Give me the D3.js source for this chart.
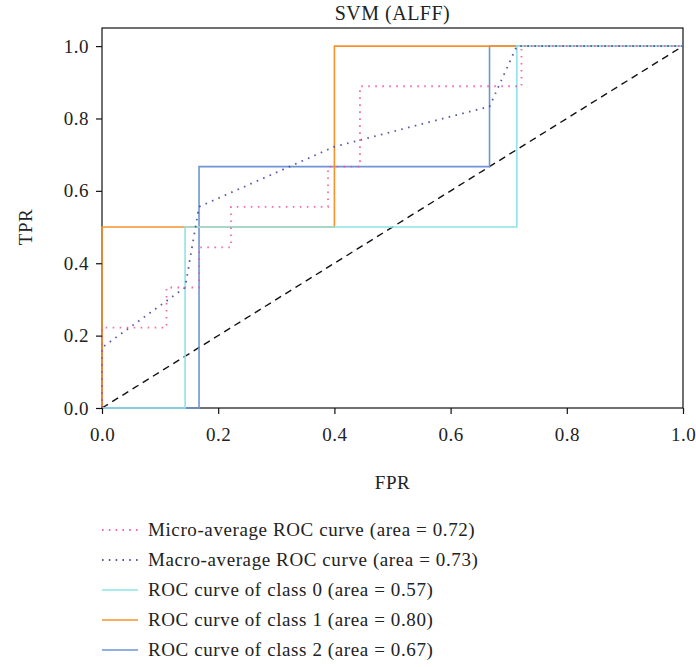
<!DOCTYPE html>
<html>
<head>
<meta charset="utf-8">
<script src="https://d3js.org/d3.v7.min.js"></script>
<style>
  body { margin: 0; background: #fff; }
  text { font-family: "Liberation Serif", "DejaVu Serif", serif; fill: #222; }
</style>
</head>
<body>
<div id="chart"></div>
<script>
// ROC curves
const microFpr = [0, 0, 0.111, 0.111, 0.167, 0.167, 0.222, 0.222, 0.389, 0.389, 0.444, 0.444, 0.722, 0.722, 1];
const microTpr = [0, 0.222, 0.222, 0.333, 0.333, 0.444, 0.444, 0.556, 0.556, 0.667, 0.667, 0.889, 0.889, 1, 1];
const macroFpr = [0, 0, 0.143, 0.167, 0.4, 0.667, 0.714, 1];
const macroTpr = [0, 0.167, 0.333, 0.556, 0.722, 0.833, 1, 1];
const class0Fpr = [0, 0.143, 0.143, 0.714, 0.714, 1];
const class0Tpr = [0, 0, 0.5, 0.5, 1, 1];
const class1Fpr = [0, 0, 0.4, 0.4, 1];
const class1Tpr = [0, 0.5, 0.5, 1, 1];
const class2Fpr = [0, 0.167, 0.167, 0.667, 0.667, 1];
const class2Tpr = [0, 0, 0.667, 0.667, 1, 1];
const legendLabels = [
  'Micro-average ROC curve (area = 0.72)',
  'Macro-average ROC curve (area = 0.73)',
  'ROC curve of class 0 (area = 0.57)',
  'ROC curve of class 1 (area = 0.80)',
  'ROC curve of class 2 (area = 0.67)'
];
const ticks = [0, 0.2, 0.4, 0.6, 0.8, 1.0];

const width = 696, height = 667;
const margin = { left: 102, right: 13, top: 28, bottom: 259 };

const svg = d3.select('#chart').append('svg')
  .attr('width', width).attr('height', height);

const x = d3.scaleLinear().domain([0, 1]).range([margin.left, width - margin.right]);
const y = d3.scaleLinear().domain([0, 1.05]).range([height - margin.bottom, margin.top]);

const series = [
  { fpr: microFpr, tpr: microTpr, color: '#f0509c', dash: '1.6,5.4', w: 1.8, op: 0.85 },
  { fpr: macroFpr, tpr: macroTpr, color: '#3c3c96', dash: '1.6,5.4', w: 1.8, op: 0.85 },
  { fpr: class0Fpr, tpr: class0Tpr, color: '#8fe3ea', dash: null, w: 1.6, op: 1 },
  { fpr: class1Fpr, tpr: class1Tpr, color: '#f7922a', dash: null, w: 1.6, op: 1 },
  { fpr: class2Fpr, tpr: class2Tpr, color: '#6f94d6', dash: null, w: 1.6, op: 1 }
];

const line = d3.line().x(d => x(d[0])).y(d => y(d[1]));

// plot frame
svg.append('rect')
  .attr('x', x(0)).attr('y', y(1.05))
  .attr('width', x(1) - x(0)).attr('height', y(0) - y(1.05))
  .attr('fill', 'none').attr('stroke', '#111').attr('stroke-width', 1.2);

// diagonal
svg.append('path')
  .attr('d', line([[0, 0], [1, 1]]))
  .attr('fill', 'none').attr('stroke', '#111')
  .attr('stroke-width', 1.4).attr('stroke-dasharray', '7,5');

series.slice().reverse().forEach(s => {
  svg.append('path')
    .attr('d', line(s.fpr.map((f, i) => [f, s.tpr[i]])))
    .attr('fill', 'none')
    .attr('stroke', s.color)
    .attr('stroke-width', s.w)
    .attr('stroke-opacity', s.op)
    .attr('stroke-dasharray', s.dash);
});

// axes
const xAxis = svg.append('g')
  .attr('transform', `translate(0,${y(0)})`)
  .call(d3.axisBottom(x).tickValues(ticks).tickFormat(d3.format('.1f')).tickSize(6).tickPadding(14));
const yAxis = svg.append('g')
  .attr('transform', `translate(${x(0)},0)`)
  .call(d3.axisLeft(y).tickValues(ticks).tickFormat(d3.format('.1f')).tickSize(6).tickPadding(7));
[xAxis, yAxis].forEach(g => {
  g.select('.domain').remove();
  g.selectAll('line').attr('stroke', '#111').attr('stroke-width', 1.2);
  g.selectAll('text').attr('font-size', 19).attr('letter-spacing', 0.5)
    .style('font-family', '"Liberation Serif", serif').attr('fill', '#222');
});

// labels
svg.append('text').attr('x', (x(0) + x(1)) / 2).attr('y', 20)
  .attr('text-anchor', 'middle').attr('font-size', 20).attr('letter-spacing', 0.5).text('SVM (ALFF)');
svg.append('text').attr('x', (x(0) + x(1)) / 2).attr('y', 489)
  .attr('text-anchor', 'middle').attr('font-size', 19).attr('letter-spacing', 0.5).text('FPR');
svg.append('text')
  .attr('transform', `translate(32,${(y(0) + y(1)) / 2}) rotate(-90)`)
  .attr('text-anchor', 'middle').attr('font-size', 19).attr('letter-spacing', 0.5).text('TPR');

// legend
const legend = svg.append('g');
legendLabels.forEach((lab, i) => {
  const ly = 530 + i * 30;
  const s = series[i];
  legend.append('line')
    .attr('x1', 102).attr('x2', 138).attr('y1', ly).attr('y2', ly)
    .attr('stroke', s.color).attr('stroke-width', s.dash ? 1.8 : 1.6)
    .attr('stroke-opacity', s.op)
    .attr('stroke-dasharray', s.dash ? '1.6,5.2' : null);
  legend.append('text').attr('x', 148).attr('y', ly + 6)
    .attr('font-size', 19).attr('letter-spacing', 0.6).text(lab);
});
</script>
</body>
</html>
